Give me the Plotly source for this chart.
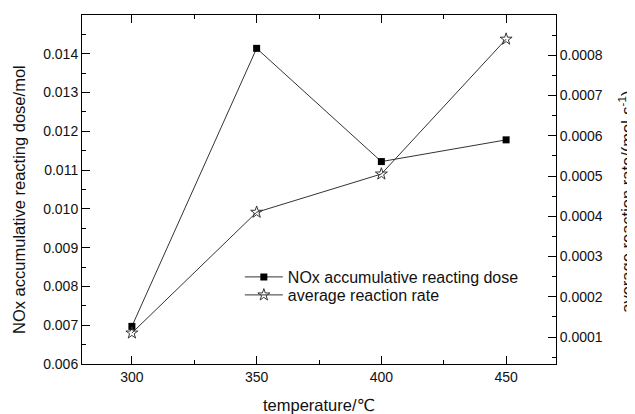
import plotly.graph_objects as go

temperature = [300, 350, 400, 450]
nox_dose = [0.00697, 0.01414, 0.01122, 0.01178]
reaction_rate = [0.00011, 0.00041, 0.000505, 0.00084]

x_ticks = [300, 350, 400, 450]

x_title = "temperature/℃"
y_title = "NOx accumulative reacting dose/mol"
y2_title = "average reaction rate/(mol·s<sup>-1</sup>)"

FONT = "Liberation Sans, Arial, DejaVu Sans, Noto Sans CJK SC"
INK = "#111111"

fig = go.Figure()
fig.add_trace(go.Scatter(
    x=temperature, y=nox_dose, name="NOx accumulative reacting dose",
    mode="lines+markers", legend="legend",
    line=dict(color="#333333", width=1),
    marker=dict(symbol="square", size=7, color="black"),
))
fig.add_trace(go.Scatter(
    x=temperature, y=reaction_rate, name="average reaction rate",
    mode="lines+markers", yaxis="y2", legend="legend2",
    line=dict(color="#333333", width=1),
    marker=dict(symbol="star-open", size=9, color="#333333", line=dict(width=1)),
))

legend_common = dict(xanchor="left", yanchor="middle", bgcolor="rgba(0,0,0,0)",
                     font=dict(size=16, color=INK), itemwidth=38,
                     borderwidth=0)

axis_common = dict(
    automargin=False, ticks="inside", ticklen=8, tickwidth=1, tickcolor="black",
    showline=True, linecolor="black", linewidth=1, showgrid=False, zeroline=False,
    tickfont=dict(size=14, color=INK),
)

# The page body has an 8px default margin, so the figure is sized to the visible area.
fig.update_layout(
    template="none",
    width=627, height=406,
    margin=dict(l=74, r=79, t=7, b=50, pad=0),
    paper_bgcolor="white", plot_bgcolor="white",
    font=dict(family=FONT, size=14, color=INK),
    showlegend=True,
    legend=dict(x=0.333, y=0.2493, **legend_common),
    legend2=dict(x=0.333, y=0.1977, **legend_common),
    xaxis=dict(
        range=[280, 470], tickvals=x_ticks, mirror="ticks",
        minor=dict(dtick=25, tick0=0, ticks="inside", ticklen=4, tickcolor="black",
                   showgrid=False),
        **axis_common,
    ),
    yaxis=dict(
        range=[0.006, 0.015], dtick=0.001, tick0=0, tickformat=".3f",
        minor=dict(dtick=0.0005, tick0=0, ticks="inside", ticklen=4, tickcolor="black",
                   showgrid=False),
        **axis_common,
    ),
    yaxis2=dict(
        overlaying="y", side="right",
        range=[0.000033, 0.0009], dtick=0.0001, tick0=0, tickformat=".4f",
        minor=dict(dtick=0.00005, tick0=0, ticks="inside", ticklen=4, tickcolor="black",
                   showgrid=False),
        **axis_common,
    ),
    annotations=[
        dict(text=x_title, xref="paper", yref="paper", x=0.5, y=-0.1175,
             xanchor="center", yanchor="middle", showarrow=False,
             font=dict(size=16.5, color=INK)),
        dict(text=y_title, xref="paper", yref="paper", x=-0.1329, y=0.47,
             xanchor="center", yanchor="middle", textangle=-90, showarrow=False,
             font=dict(size=16.5, color=INK)),
        dict(text=y2_title, xref="paper", yref="paper", x=1.147, y=0.464,
             xanchor="center", yanchor="middle", textangle=-90, showarrow=False,
             font=dict(size=16.5, color=INK)),
    ],
)

fig.write_html("out.html")
